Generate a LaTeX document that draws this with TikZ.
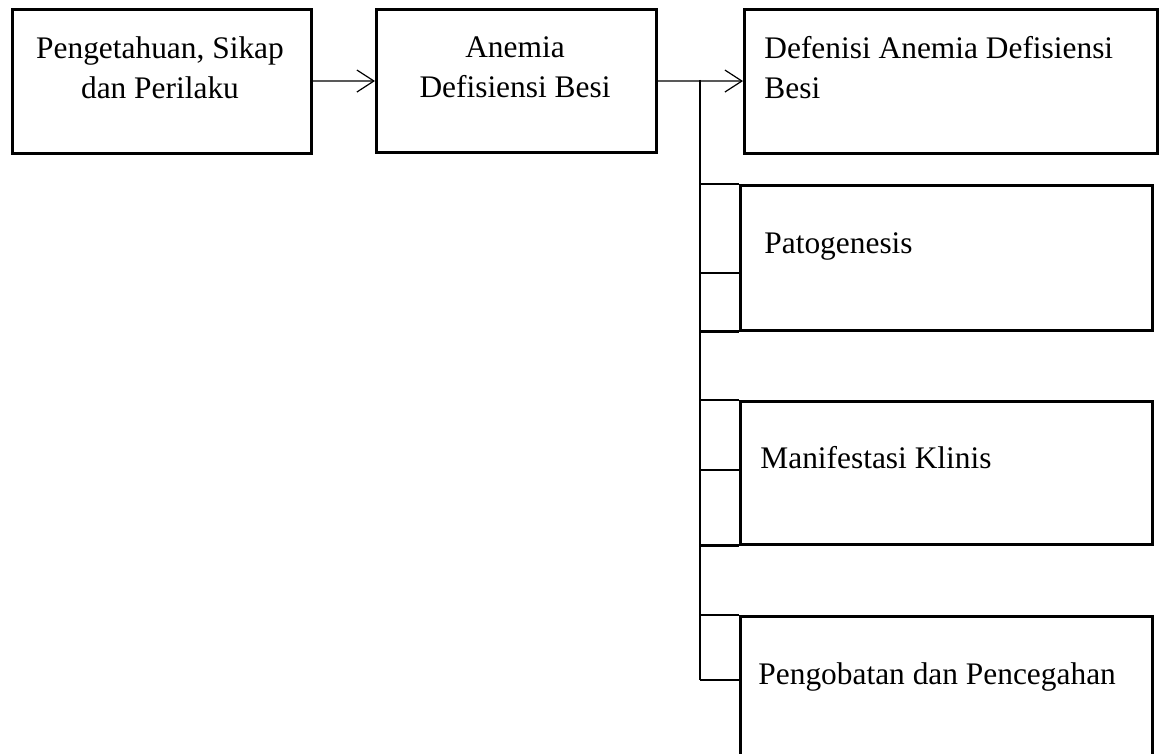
\documentclass[tikz,border=0pt]{standalone}
\usepackage{fontspec}
\setmainfont{Liberation Serif}
\usetikzlibrary{arrows.meta,positioning}

\begin{document}
\begin{tikzpicture}[
  x=0.5pt, y=-0.5pt,
  font=\fontsize{15.7}{20}\selectfont,
  box/.style={draw, line width=1.3pt, anchor=north west, inner sep=0pt},
  txt/.style={inner sep=0pt},
  flow/.style={-{Straight Barb[length=8.5pt,width=11pt]}, line width=0.6pt},
  tree/.style={line width=1.2pt}]

\clip (0,0) rectangle (1169,754);

% Top row of boxes
\node[box, minimum width=149.5pt, minimum height=72pt] (sikap) at (11,8) {};
\node[box, minimum width=140pt, minimum height=71.5pt] (anemia) at (375,8) {};
\node[box, minimum width=206.5pt, minimum height=72pt] (defenisi) at (743,8) {};

\node[txt, align=center, anchor=base] (tSikap) at (160,99) {Pengetahuan, Sikap\\dan Perilaku};
\node[txt, align=center, anchor=base] (tAnemia) at (515,98) {Anemia\\Defisiensi Besi};
\node[txt, align=left, anchor=base west] (tDefenisi) at (764,99) {Defenisi Anemia Defisiensi\\Besi};

% Boxes hanging from the branch line
\node[box, minimum width=206pt, minimum height=72.5pt] (patogenesis) at (739,184) {};
\node[box, minimum width=206pt, minimum height=71.5pt] (manifestasi) at (739,400) {};
\node[box, minimum width=206pt, minimum height=75pt] (pengobatan) at (739,615) {};

\node[txt, anchor=base west] (tPatogenesis) at (764,254) {Patogenesis};
\node[txt, anchor=base west] (tManifestasi) at (760,469) {Manifestasi Klinis};
\node[txt, anchor=base west] (tPengobatan) at (758,684) {Pengobatan dan Pencegahan};

% Arrows along the top row
\draw[flow] (sikap) -- (anemia);
\draw[flow] (anemia) -- (defenisi);

% Branch line down the side
\coordinate (split) at (700,80);
\coordinate (branchEnd) at (700,680);
\draw[tree] (split) -- (branchEnd);

\draw[tree] ([yshift=-7.75pt]patogenesis.west -| split) -- ([yshift=-7.75pt]patogenesis.west);
\draw[tree] (split |- patogenesis.north) -- (patogenesis.north west);
\draw[tree] (split |- patogenesis.south) -- (patogenesis.south west);

\draw[tree] ([yshift=1.25pt]manifestasi.west -| split) -- ([yshift=1.25pt]manifestasi.west);
\draw[tree] (split |- manifestasi.north) -- (manifestasi.north west);
\draw[tree] (split |- manifestasi.south) -- (manifestasi.south west);

\draw[tree] (branchEnd) -- (branchEnd -| pengobatan.west);
\draw[tree] (split |- pengobatan.north) -- (pengobatan.north west);
\end{tikzpicture}
\end{document}
